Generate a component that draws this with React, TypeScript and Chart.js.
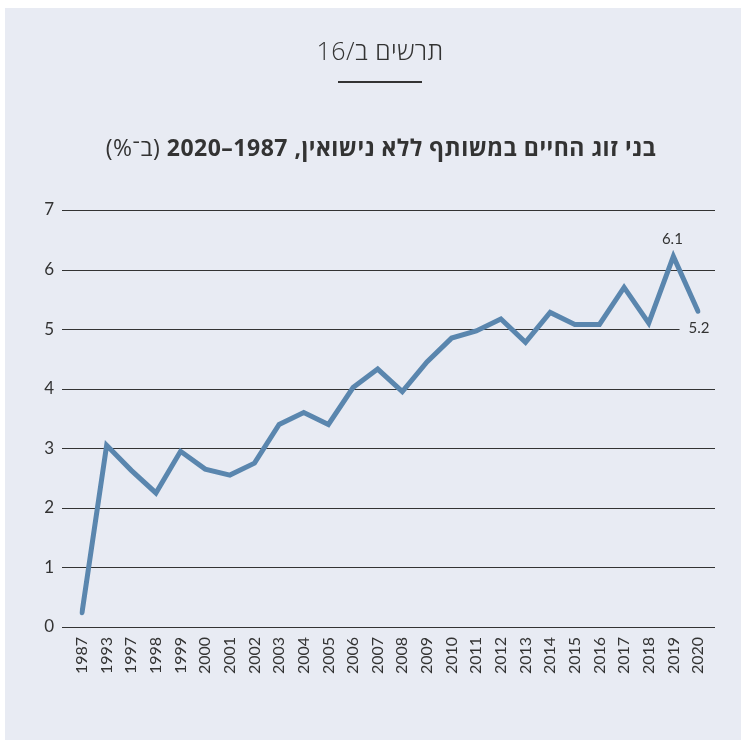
import React, { useEffect, useRef } from "react";
import { Chart, registerables } from "chart.js";

Chart.register(...registerables);

// ---- data ----
const years = [
  "1987", "1993", "1997", "1998", "1999", "2000", "2001", "2002", "2003",
  "2004", "2005", "2006", "2007", "2008", "2009", "2010", "2011", "2012",
  "2013", "2014", "2015", "2016", "2017", "2018", "2019", "2020",
];
const shareValues = [
  0.24, 3.05, 2.63, 2.25, 2.95, 2.65, 2.55, 2.75, 3.4,
  3.6, 3.4, 4.02, 4.33, 3.95, 4.45, 4.85, 4.97, 5.17,
  4.78, 5.28, 5.08, 5.08, 5.7, 5.1, 6.22, 5.3,
];
const yTickValues = [0, 1, 2, 3, 4, 5, 6, 7];
const calloutYears = ["2019", "2020"];
const calloutTexts = ["6.1", "5.2"];
const headerText = "תרשים ב/16";
const titleMain = "בני זוג החיים במשותף ללא נישואין, 1987–2020";
const titleUnit = "(ב־%)";

const BG = "#e8ebf3";
const INK = "#333333";
const LINE = "#5a86ae";
const TICK_FONT = "Lato, 'Open Sans', sans-serif";

const gridPlugin = {
  id: "customGrid",
  beforeDatasetsDraw(chart: any) {
    const { ctx, chartArea, scales } = chart;
    const y = scales.y;
    const x = scales.x;
    ctx.save();
    ctx.strokeStyle = INK;
    ctx.lineWidth = 1.2;
    y.ticks.forEach((t: any) => {
      const py = Math.round(y.getPixelForValue(t.value)) + 0.5;
      ctx.beginPath();
      ctx.moveTo(chartArea.left - 20, py);
      ctx.lineTo(chartArea.right + 17, py);
      ctx.stroke();
    });
    // callouts
    ctx.font = "15px " + TICK_FONT;
    ctx.textAlign = "center";
    ctx.textBaseline = "middle";
    calloutYears.forEach((yr, i) => {
      const idx = years.indexOf(yr);
      const px = x.getPixelForValue(idx);
      const py = y.getPixelForValue(shareValues[idx]);
      const above = i === 0;
      const tx = above ? px - 1 : px + 1;
      const ty = above ? py - 17.5 : py + 17;
      const w = ctx.measureText(calloutTexts[i]).width;
      if (!above) {
        const left = tx - w / 2 - 9;
        ctx.fillStyle = BG;
        ctx.fillRect(left, ty - 8, chartArea.right + 20 - left, 16);
      }
      ctx.fillStyle = INK;
      ctx.fillText(calloutTexts[i], tx, ty);
    });
    ctx.restore();
  },
};

function LineChart() {
  const ref = useRef<HTMLCanvasElement | null>(null);
  useEffect(() => {
    if (!ref.current) return;
    const chart = new Chart(ref.current, {
      type: "line",
      data: {
        labels: years,
        datasets: [
          {
            data: shareValues,
            borderColor: LINE,
            borderWidth: 5,
            pointRadius: 0,
            tension: 0,
            borderCapStyle: "round",
            borderJoinStyle: "miter",
            fill: false,
          },
        ],
      },
      options: {
        animation: false,
        responsive: false,
        devicePixelRatio: 1,
        layout: { padding: { left: 0, right: 43, top: 202, bottom: 0 } },
        plugins: {
          legend: { display: false },
          tooltip: { enabled: false },
          title: { display: false },
        },
        scales: {
          x: {
            type: "category",
            offset: false,
            grid: { display: false, drawTicks: false },
            border: { display: false },
            afterFit: (axis: any) => {
              axis.height = 113;
              axis.paddingLeft = 0;
              axis.paddingRight = 0;
            },
            ticks: {
              minRotation: 90,
              maxRotation: 90,
              autoSkip: false,
              padding: 10,
              color: INK,
              font: { family: TICK_FONT, size: 16 },
            },
          },
          y: {
            min: 0,
            max: 7,
            afterBuildTicks: (axis: any) => {
              axis.ticks = yTickValues.map((v) => ({ value: v }));
            },
            afterFit: (axis: any) => {
              axis.width = 77;
              axis.paddingTop = 0;
              axis.paddingBottom = 0;
            },
            grid: { display: false, drawTicks: false },
            border: { display: false },
            ticks: {
              padding: 28,
              color: INK,
              font: { family: TICK_FONT, size: 17 },
            },
          },
        },
      },
      plugins: [gridPlugin],
    });
    return () => chart.destroy();
  }, []);
  return (
    <canvas
      ref={ref}
      width={736}
      height={732}
      style={{ position: "absolute", left: 0, top: 0, width: 736, height: 732 }}
    />
  );
}

export default function App() {
  return (
    <div
      style={{
        position: "absolute",
        left: 5,
        top: 8,
        width: 736,
        height: 732,
        background: BG,
        fontFamily: "'Open Sans', 'Liberation Sans', sans-serif",
        color: INK,
      }}
    >
      <LineChart />
      <div
        dir="rtl"
        style={{
          position: "absolute",
          left: 375,
          top: 27,
          transform: "translateX(-50%)",
          fontSize: 25,
          fontWeight: 300,
          letterSpacing: 0.5,
          lineHeight: "30px",
          whiteSpace: "nowrap",
        }}
      >
        {headerText}
      </div>
      <div
        style={{
          position: "absolute",
          left: 333,
          top: 73,
          width: 84,
          height: 2,
          background: INK,
        }}
      />
      <div
        dir="rtl"
        style={{
          position: "absolute",
          left: 376,
          top: 125,
          transform: "translateX(-50%)",
          fontSize: 23,
          letterSpacing: 0.5,
          lineHeight: "28px",
          whiteSpace: "nowrap",
        }}
      >
        <span style={{ fontWeight: 700 }}>{titleMain}</span>{" "}
        <span style={{ fontWeight: 400 }}>{titleUnit}</span>
      </div>
    </div>
  );
}
